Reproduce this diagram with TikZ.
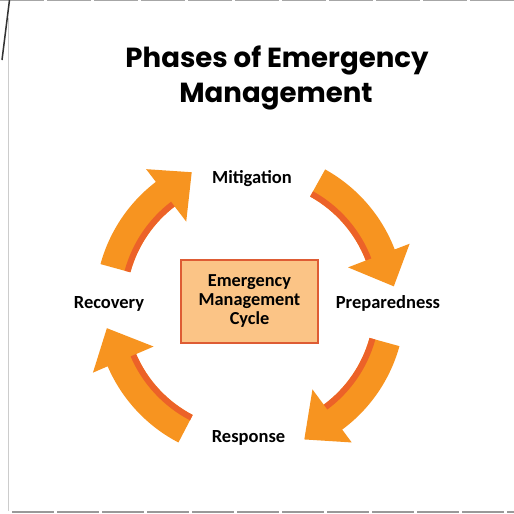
\documentclass[tikz,border=0pt]{standalone}
\usepackage{fontspec}
\setmainfont{Carlito}
\newfontfamily\titlefont{Poppins}
\definecolor{arrorange}{RGB}{247,148,32}
\definecolor{arrstrip}{RGB}{236,98,40}
\definecolor{boxfill}{RGB}{251,196,134}
\definecolor{boxline}{RGB}{222,92,52}
\tikzset{
  arrowfill/.style={fill=arrorange},
  stripfill/.style={fill=arrstrip},
  phase/.style={font=\fontsize{18.5}{20}\selectfont\bfseries, anchor=base, inner sep=0pt},
  cyclebox/.style={draw=boxline, line width=2.2pt, fill=boxfill, minimum width=137pt, minimum height=83pt, align=center, font=\fontsize{18.3}{19}\selectfont\bfseries, inner sep=0pt},
  titletext/.style={font=\titlefont\fontsize{27.6}{35}\selectfont\bfseries, anchor=base, inner sep=0pt}
}
\newcommand\cycarrow[3]{%
  \fill[arrowfill] ([shift={(#1:155pt)}]C) arc[start angle=#1, end angle=#2, radius=155pt]
     -- ([shift={(#2:171pt)}]C) -- ([shift={(#3:145pt)}]C) -- ([shift={(#2:105pt)}]C)
     -- ([shift={(#2:124pt)}]C) arc[start angle=#2, end angle=#1, radius=124pt] -- cycle;
  \fill[stripfill] ([shift={(#1:124pt)}]C) arc[start angle=#1, end angle=#2, radius=124pt]
     -- ([shift={(#2:130pt)}]C) arc[start angle=#2, end angle=#1, radius=130pt] -- cycle;
}
\begin{document}
\begin{tikzpicture}[x=1pt,y=1pt]
\useasboundingbox (0,0) rectangle (514,-514);
\fill[white] (0,0) rectangle (514,-514);
% screenshot edges
\draw[gray!70, line width=1.2pt, dash pattern=on 44pt off 3pt] (0,-0.7) -- (514,-0.7);
\draw[gray!80, line width=1.5pt, dash pattern=on 42pt off 3pt] (12,-512) -- (514,-512);
\draw[gray!40, line width=1.4pt] (8.5,-18) -- (8.5,-511);
\draw[black!80, line width=1.5pt] (9.5,0) -- (2,-60);
% title
\node[titletext] (t1) at (277,-67) {Phases of Emergency};
\node[titletext] (t2) at (276,-102) {Management};
% cycle
\coordinate (C) at (250,-305);
\cycarrow{164.7}{127.4}{113.7}
\cycarrow{61}{21}{7.4}
\cycarrow{-15.4}{-53.5}{-68}
\cycarrow{-117.5}{-156.7}{-170.8}
\node[cyclebox] (box) at (249.5,-301.5) {Emergency\\Management\\Cycle};
\node[phase] (mit) at (252,-183) {Mitigation};
\node[phase] (prep) at (388,-308) {Preparedness};
\node[phase] (rec) at (109,-308) {Recovery};
\node[phase] (resp) at (248.5,-442) {Response};
\end{tikzpicture}
\end{document}
